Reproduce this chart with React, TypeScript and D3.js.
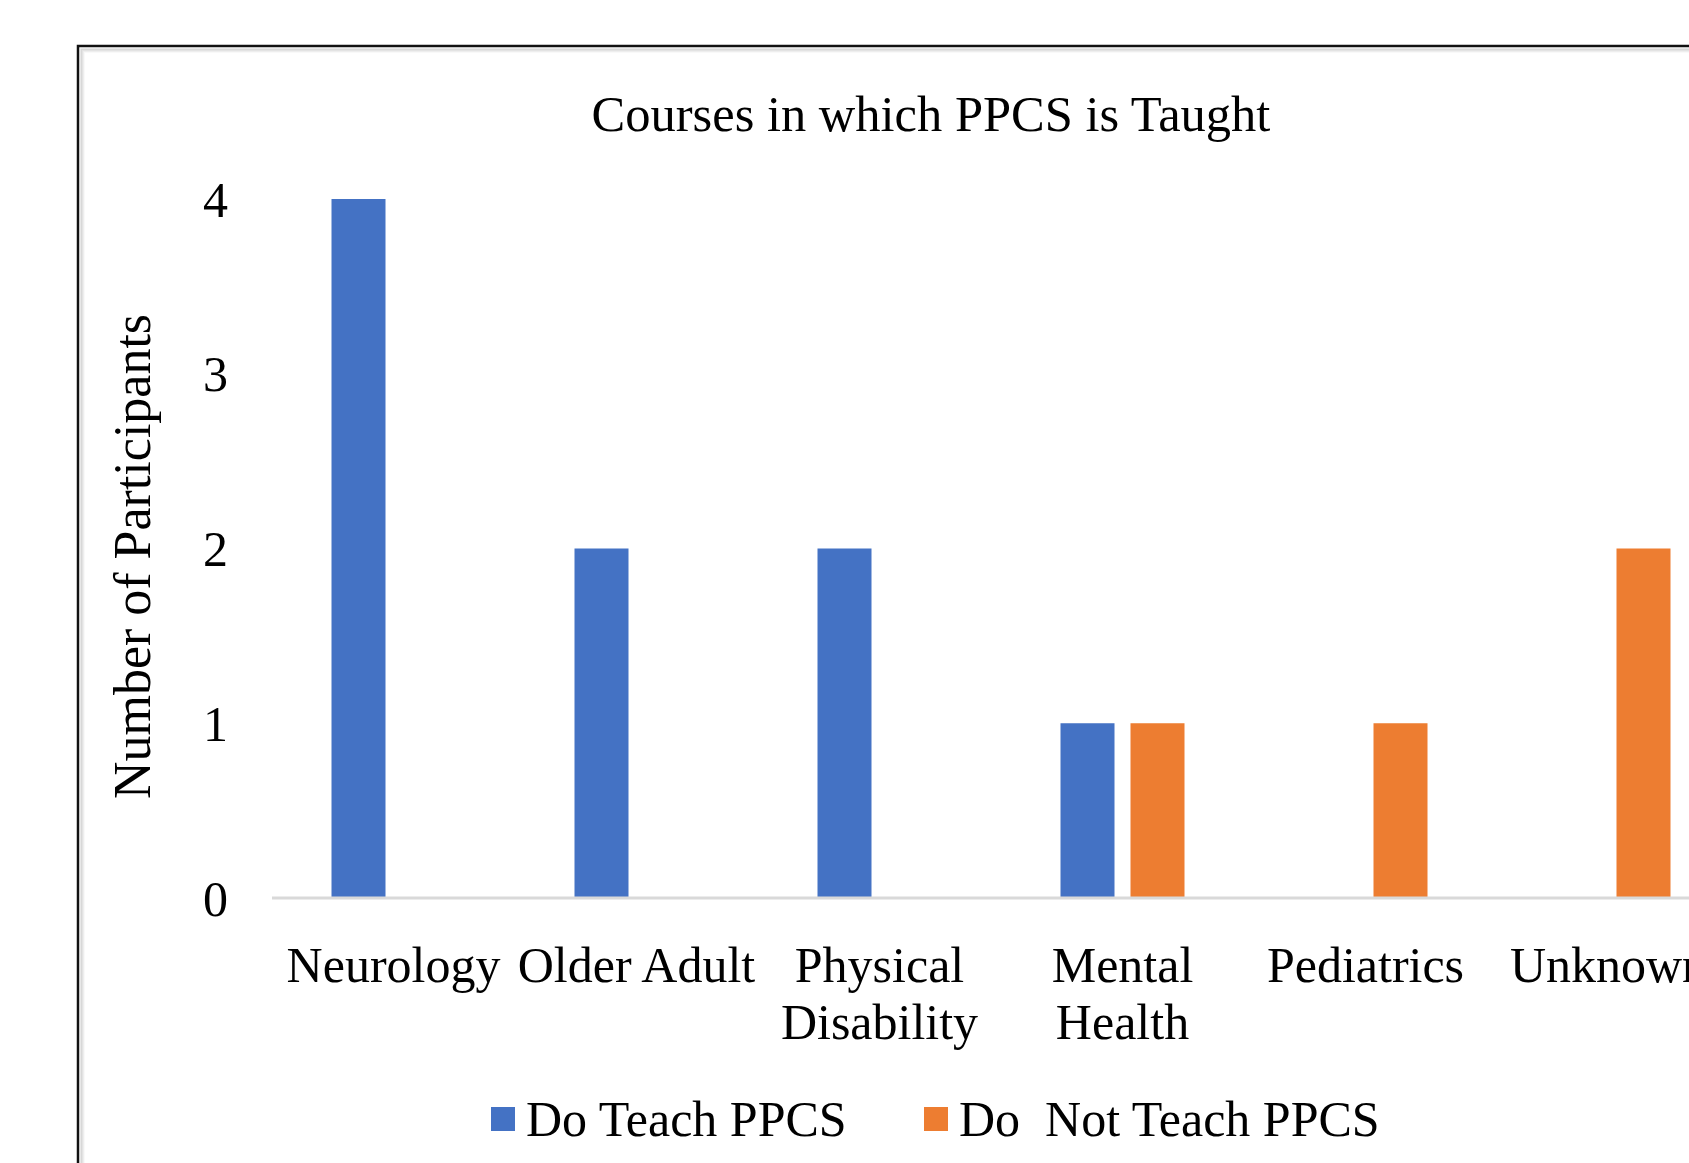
import React from "react";
import * as d3 from "d3";

const categories: string[][] = [
  ["Neurology"],
  ["Older Adult"],
  ["Physical", "Disability"],
  ["Mental", "Health"],
  ["Pediatrics"],
  ["Unknown"],
];
const seriesNames = ["Do Teach PPCS", "Do  Not Teach PPCS"];
const doTeach = [4, 2, 2, 1, 0, 0];
const doNotTeach = [0, 0, 0, 1, 1, 2];
const yTicks = [0, 1, 2, 3, 4];
const colors = ["#4472C4", "#ED7D31"];
const title = "Courses in which PPCS is Taught";
const yLabel = "Number of Participants";

const FONT = "'Liberation Serif', 'Times New Roman', serif";

export default function App() {
  const W = 1689;
  const H = 1163;
  const keys = categories.map((c) => c.join(" "));
  const x = d3.scaleBand<string>().domain(keys).range([272, 272 + 6 * 243]);
  const xSub = d3
    .scaleBand<string>()
    .domain(seriesNames)
    .range([59.5, 183.5])
    .paddingInner(2 - 124 / 70);
  const y = d3.scaleLinear().domain([0, 4]).range([898, 199]);
  const series = [doTeach, doNotTeach];
  const fs = 50;

  return (
    <svg
      width={W}
      height={H}
      style={{ position: "absolute", left: 0, top: 0, background: "#fff" }}
      fontFamily={FONT}
    >
      <rect x={0} y={0} width={W} height={H} fill="#fff" />
      {/* frame shadow */}
      {[6, 5, 4, 3].map((o, i) => (
        <rect
          key={o}
          x={78 + o}
          y={46 + o}
          width={W}
          height={H}
          fill="none"
          stroke="#000"
          strokeOpacity={0.03 + i * 0.03}
          strokeWidth={1.5}
        />
      ))}
      <rect x={78} y={46} width={W} height={H} fill="none" stroke="#111" strokeWidth={2.5} />

      <text x={931} y={131} textAnchor="middle" fontSize={50.5} fill="#000">
        {title}
      </text>

      {/* y tick labels */}
      {yTicks.map((t) => (
        <text key={t} x={228} y={y(t)} dy="0.35em" textAnchor="end" fontSize={fs} fill="#000">
          {t}
        </text>
      ))}

      <text
        transform={`translate(150,${(y(0) + y(4)) / 2 + 8}) rotate(-90)`}
        textAnchor="middle"
        fontSize={52}
        fill="#000"
      >
        {yLabel}
      </text>

      {/* bars */}
      {series.map((vals, si) =>
        vals.map((v, ci) =>
          v > 0 ? (
            <rect
              key={`${si}-${ci}`}
              x={(x(keys[ci]) as number) + (xSub(seriesNames[si]) as number)}
              y={y(v)}
              width={xSub.bandwidth()}
              height={y(0) - y(v)}
              fill={colors[si]}
            />
          ) : null
        )
      )}

      {/* axis line */}
      <line x1={x.range()[0]} x2={x.range()[1]} y1={y(0)} y2={y(0)} stroke="#d9d9d9" strokeWidth={3} />

      {/* category labels */}
      {categories.map((lines, ci) => (
        <text
          key={ci}
          x={(x(keys[ci]) as number) + x.bandwidth() / 2}
          y={982}
          textAnchor="middle"
          fontSize={fs}
          fill="#000"
        >
          {lines.map((l, li) => (
            <tspan key={li} x={(x(keys[ci]) as number) + x.bandwidth() / 2} dy={li === 0 ? 0 : 57}>
              {l}
            </tspan>
          ))}
        </text>
      ))}

      {/* legend */}
      {seriesNames.map((n, i) => {
        const lx = [491, 924][i];
        return (
          <g key={n}>
            <rect x={lx} y={1107} width={24} height={24} fill={colors[i]} />
            <text x={lx + 35} y={1136} fontSize={fs} fill="#000" style={{ whiteSpace: "pre" }}>
              {n}
            </text>
          </g>
        );
      })}
    </svg>
  );
}
